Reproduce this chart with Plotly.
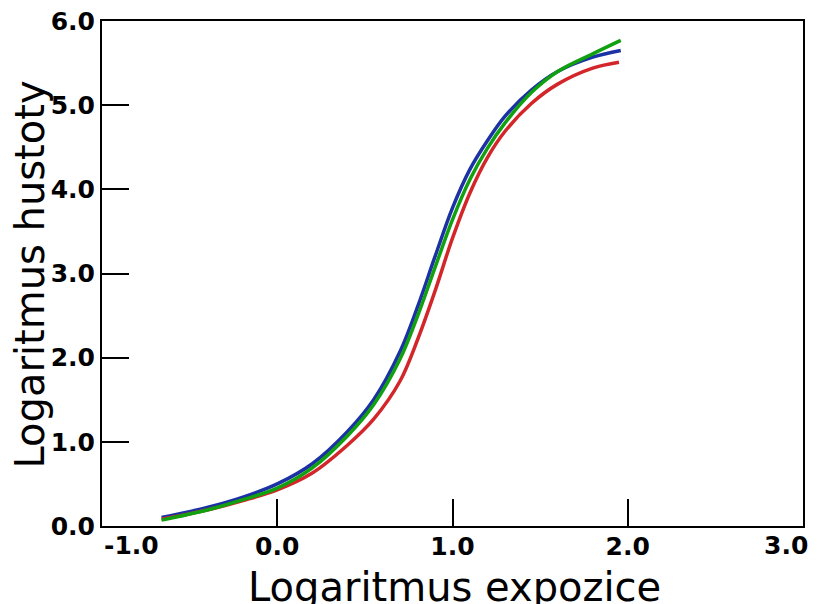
import plotly.graph_objects as go

# Logaritmus expozice (x) vs. Logaritmus hustoty (y) for three curves
blue_x = [-0.66, -0.4, -0.2, 0.0, 0.2, 0.4, 0.55, 0.7, 0.8, 0.9, 1.0, 1.1, 1.2, 1.3, 1.45, 1.6, 1.8, 1.96]
blue_y = [0.10, 0.22, 0.34, 0.50, 0.74, 1.12, 1.50, 2.07, 2.60, 3.20, 3.78, 4.24, 4.58, 4.87, 5.18, 5.40, 5.57, 5.65]

red_x = [-0.66, -0.4, -0.2, 0.0, 0.2, 0.4, 0.55, 0.7, 0.8, 0.9, 1.0, 1.1, 1.2, 1.3, 1.45, 1.6, 1.8, 1.95]
red_y = [0.08, 0.19, 0.30, 0.43, 0.63, 0.96, 1.27, 1.72, 2.21, 2.79, 3.42, 3.96, 4.38, 4.69, 5.02, 5.25, 5.44, 5.51]

green_x = [-0.66, -0.4, -0.2, 0.0, 0.2, 0.4, 0.55, 0.7, 0.8, 0.9, 1.0, 1.1, 1.2, 1.3, 1.45, 1.6, 1.8, 1.96]
green_y = [0.07, 0.19, 0.31, 0.45, 0.69, 1.07, 1.44, 1.98, 2.49, 3.07, 3.64, 4.12, 4.49, 4.79, 5.15, 5.40, 5.61, 5.77]

x_tick_vals = [0.0, 1.0, 2.0]
x_tick_text = ["0.0", "1.0", "2.0"]
x_edge_labels = [(-1.0, "-1.0"), (3.0, "3.0")]
y_tick_vals = [0.0, 1.0, 2.0, 3.0, 4.0, 5.0, 6.0]
y_tick_text = ["0.0", "1.0", "2.0", "3.0", "4.0", "5.0", "6.0"]

x_title = "Logaritmus expozice"
y_title = "Logaritmus hustoty"

tick_font = dict(family="DejaVu Sans", size=25, color="black", weight="bold")
title_font = dict(family="DejaVu Sans", size=40, color="black")

fig = go.Figure()
for xs, ys, col in [(blue_x, blue_y, "#1c32a4"), (red_x, red_y, "#d3262a"), (green_x, green_y, "#10a010")]:
    fig.add_trace(go.Scatter(x=xs, y=ys, mode="lines",
                             line=dict(color=col, width=3.5, shape="spline", smoothing=1.0),
                             showlegend=False, hoverinfo="skip"))

for val, txt in x_edge_labels:
    fig.add_annotation(x=val, xref="x", y=0, yref="paper", text=txt, showarrow=False,
                       xanchor="left" if val < 0 else "right",
                       xshift=0 if val < 0 else 7,
                       yanchor="top", yshift=-3, font=tick_font)

# axis titles
fig.add_annotation(x=0.5, xref="paper", y=0, yref="paper", text=x_title, showarrow=False,
                   xanchor="center", yanchor="middle", xshift=2, yshift=-61, font=title_font)
fig.add_annotation(x=0, xref="paper", y=0.5, yref="paper", text=y_title, showarrow=False,
                   textangle=-90, xanchor="center", yanchor="middle", xshift=-73, yshift=-1,
                   font=title_font)

fig.update_layout(
    width=809, height=596,
    margin=dict(l=94, r=14, t=13, b=78, autoexpand=False),
    paper_bgcolor="white", plot_bgcolor="white",
    xaxis=dict(range=[-1, 3], tickvals=x_tick_vals, ticktext=x_tick_text,
               ticks="inside", ticklen=27, tickwidth=2, tickcolor="black",
               showline=True, linewidth=2, linecolor="black", mirror=True,
               showgrid=False, zeroline=False, tickfont=tick_font, automargin=False,
               ticklabeloverflow="allow", ticklabelstandoff=-3),
    yaxis=dict(range=[0, 6], tickvals=y_tick_vals, ticktext=y_tick_text,
               ticks="inside", ticklen=27, tickwidth=2, tickcolor="black",
               showline=True, linewidth=2, linecolor="black", mirror=True,
               showgrid=False, zeroline=False, tickfont=tick_font, automargin=False,
               ticklabeloverflow="allow"),
)

fig.write_html("out.html")
